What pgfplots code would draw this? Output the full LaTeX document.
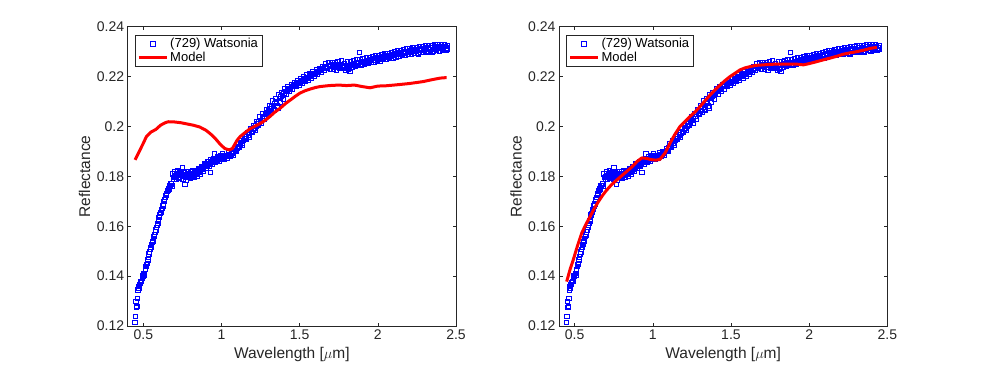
\documentclass[border=0pt]{standalone}
\usepackage{fontspec}
\setmainfont{Liberation Sans}
\usepackage{pgfplots}
\usepackage{pgfplotstable}
\pgfplotsset{compat=1.18}
\definecolor{matgray}{RGB}{38,38,38}

% measured spectrum of (729) Watsonia
\pgfplotstableread{
lam R
0.447 0.1215
0.450 0.1238
0.453 0.1300
0.456 0.1276
0.459 0.1278
0.462 0.1312
0.466 0.1345
0.469 0.1360
0.472 0.1352
0.476 0.1368
0.480 0.1373
0.484 0.1380
0.488 0.1378
0.492 0.1390
0.496 0.1402
0.500 0.1398
0.504 0.1412
0.508 0.1405
0.512 0.1428
0.516 0.1440
0.520 0.1446
0.524 0.1452
0.528 0.1465
0.532 0.1478
0.536 0.1490
0.540 0.1498
0.544 0.1508
0.548 0.1515
0.552 0.1528
0.556 0.1535
0.560 0.1540
0.564 0.1552
0.568 0.1560
0.572 0.1565
0.576 0.1578
0.580 0.1585
0.584 0.1595
0.588 0.1605
0.592 0.1612
0.596 0.1622
0.600 0.1635
0.604 0.1645
0.608 0.1652
0.612 0.1655
0.616 0.1668
0.620 0.1672
0.624 0.1682
0.628 0.1690
0.632 0.1700
0.636 0.1706
0.640 0.1715
0.644 0.1725
0.648 0.1730
0.652 0.1740
0.656 0.1745
0.660 0.1752
0.664 0.1748
0.668 0.1762
0.672 0.1765
0.676 0.1770
0.680 0.1772
0.684 0.1762
0.688 0.1810
0.692 0.1795
0.696 0.1788
0.700 0.1800
0.705 0.1805
0.710 0.1790
0.715 0.1812
0.720 0.1808
0.725 0.1798
0.730 0.1815
0.735 0.1804
0.740 0.1820
0.745 0.1812
0.750 0.1836
0.755 0.1806
0.760 0.1800
0.765 0.1768
0.770 0.1795
0.775 0.1808
0.780 0.1812
0.785 0.1798
0.790 0.1805
0.795 0.1802
0.800 0.1818
0.805 0.1800
0.810 0.1808
0.815 0.1812
0.820 0.1803
0.825 0.1815
0.830 0.1810
0.835 0.1820
0.840 0.1812
0.845 0.1818
0.850 0.1825
0.855 0.1815
0.860 0.1828
0.865 0.1822
0.870 0.1832
0.875 0.1828
0.880 0.1838
0.885 0.1835
0.890 0.1842
0.895 0.1848
0.900 0.1840
0.905 0.1850
0.910 0.1845
0.915 0.1852
0.920 0.1858
0.925 0.1850
0.930 0.1816
0.935 0.1860
0.940 0.1855
0.945 0.1865
0.950 0.1858
0.955 0.1890
0.960 0.1862
0.965 0.1870
0.970 0.1866
0.975 0.1872
0.980 0.1868
0.985 0.1875
0.990 0.1870
0.995 0.1878
1.000 0.1874
1.010 0.1880
1.020 0.1876
1.030 0.1884
1.040 0.1880
1.050 0.1888
1.060 0.1884
1.070 0.1893
1.080 0.1900
1.090 0.1905
1.100 0.1914
1.110 0.1920
1.120 0.1930
1.130 0.1935
1.140 0.1945
1.150 0.1952
1.160 0.1960
1.170 0.1966
1.180 0.1975
1.190 0.1980
1.200 0.1990
1.210 0.1995
1.220 0.2003
1.230 0.2010
1.240 0.2018
1.250 0.2025
1.260 0.2030
1.270 0.2040
1.280 0.2048
1.290 0.2055
1.300 0.2062
1.310 0.2070
1.320 0.2078
1.330 0.2070
1.340 0.2092
1.350 0.2098
1.360 0.2075
1.370 0.2112
1.380 0.2120
1.390 0.2125
1.400 0.2135
1.410 0.2140
1.420 0.2145
1.430 0.2150
1.440 0.2152
1.450 0.2160
1.460 0.2165
1.470 0.2168
1.480 0.2172
1.490 0.2175
1.500 0.2178
1.510 0.2182
1.520 0.2186
1.530 0.2188
1.540 0.2194
1.550 0.2196
1.560 0.2200
1.570 0.2203
1.580 0.2208
1.590 0.2210
1.600 0.2214
1.610 0.2216
1.620 0.2220
1.630 0.2225
1.640 0.2228
1.650 0.2233
1.660 0.2235
1.670 0.2238
1.680 0.2242
1.690 0.2240
1.700 0.2246
1.710 0.2250
1.720 0.2244
1.730 0.2238
1.740 0.2248
1.750 0.2242
1.760 0.2236
1.770 0.2246
1.780 0.2240
1.790 0.2238
1.800 0.2244
1.810 0.2228
1.820 0.2222
1.830 0.2248
1.840 0.2246
1.850 0.2252
1.860 0.2244
1.870 0.2256
1.880 0.2296
1.890 0.2250
1.900 0.2258
1.910 0.2262
1.920 0.2255
1.930 0.2266
1.940 0.2260
1.950 0.2270
1.960 0.2264
1.970 0.2272
1.980 0.2266
1.990 0.2275
2.000 0.2270
2.010 0.2278
2.020 0.2272
2.030 0.2280
2.040 0.2276
2.050 0.2283
2.060 0.2278
2.070 0.2285
2.080 0.2282
2.090 0.2290
2.100 0.2284
2.110 0.2292
2.120 0.2288
2.130 0.2295
2.140 0.2290
2.150 0.2298
2.160 0.2292
2.170 0.2300
2.180 0.2296
2.190 0.2302
2.200 0.2298
2.210 0.2304
2.220 0.2300
2.230 0.2307
2.240 0.2302
2.250 0.2310
2.260 0.2290
2.270 0.2312
2.280 0.2306
2.290 0.2314
2.300 0.2308
2.310 0.2302
2.320 0.2316
2.330 0.2310
2.340 0.2318
2.350 0.2298
2.360 0.2312
2.370 0.2320
2.380 0.2314
2.390 0.2322
2.400 0.2315
2.410 0.2320
2.420 0.2312
2.430 0.2322
2.440 0.2316
2.445 0.2310
0.702 0.1818
0.712 0.1796
0.722 0.1822
0.732 0.1793
0.742 0.1808
0.752 0.1790
0.762 0.1815
0.772 0.1786
0.782 0.1820
0.792 0.1795
0.802 0.1792
0.812 0.1822
0.822 0.1796
0.832 0.1825
0.842 0.1802
0.852 0.1830
0.862 0.1810
0.872 0.1840
0.882 0.1822
0.892 0.1850
0.902 0.1832
0.912 0.1858
0.922 0.1840
0.932 0.1866
0.942 0.1848
0.952 0.1870
0.962 0.1855
0.972 0.1878
0.982 0.1860
0.992 0.1882
1.005 0.1892
1.015 0.1868
1.025 0.1885
1.035 0.1874
1.045 0.1896
1.055 0.1881
1.065 0.1899
1.075 0.1884
1.085 0.1910
1.095 0.1900
1.105 0.1932
1.115 0.1917
1.125 0.1944
1.135 0.1925
1.145 0.1958
1.155 0.1950
1.165 0.1977
1.175 0.1958
1.185 0.1993
1.195 0.1976
1.205 0.2004
1.215 0.1985
1.225 0.2021
1.235 0.2004
1.245 0.2039
1.255 0.2015
1.265 0.2050
1.275 0.2030
1.285 0.2068
1.295 0.2048
1.305 0.2082
1.315 0.2059
1.325 0.2102
1.335 0.2066
1.345 0.2113
1.355 0.2082
1.365 0.2128
1.375 0.2099
1.385 0.2137
1.395 0.2110
1.405 0.2151
1.415 0.2130
1.425 0.2160
1.435 0.2141
1.445 0.2168
1.455 0.2151
1.465 0.2178
1.475 0.2161
1.485 0.2185
1.495 0.2166
1.505 0.2192
1.515 0.2174
1.525 0.2200
1.535 0.2181
1.545 0.2207
1.555 0.2187
1.565 0.2214
1.575 0.2195
1.585 0.2220
1.595 0.2202
1.605 0.2227
1.615 0.2208
1.625 0.2234
1.635 0.2216
1.645 0.2242
1.655 0.2224
1.665 0.2252
1.675 0.2232
1.685 0.2256
1.695 0.2231
1.705 0.2257
1.715 0.2231
1.725 0.2256
1.735 0.2227
1.745 0.2260
1.755 0.2233
1.765 0.2265
1.775 0.2235
1.785 0.2253
1.795 0.2226
1.805 0.2259
1.815 0.2233
1.825 0.2259
1.835 0.2238
1.845 0.2266
1.855 0.2240
1.865 0.2268
1.875 0.2245
1.885 0.2269
1.895 0.2244
1.905 0.2272
1.915 0.2251
1.925 0.2276
1.935 0.2252
1.945 0.2278
1.955 0.2257
1.965 0.2279
1.975 0.2258
1.985 0.2284
1.995 0.2262
2.005 0.2285
2.015 0.2263
2.025 0.2289
2.035 0.2268
2.045 0.2291
2.055 0.2268
2.065 0.2294
2.075 0.2273
2.085 0.2297
2.095 0.2274
2.105 0.2300
2.115 0.2278
2.125 0.2303
2.135 0.2280
2.145 0.2305
2.155 0.2285
2.165 0.2308
2.175 0.2285
2.185 0.2311
2.195 0.2290
2.205 0.2312
2.215 0.2290
2.225 0.2315
2.235 0.2294
2.245 0.2318
2.255 0.2295
2.265 0.2321
2.275 0.2298
2.285 0.2322
2.295 0.2299
2.305 0.2324
2.315 0.2298
2.325 0.2325
2.335 0.2300
2.345 0.2326
2.355 0.2303
2.365 0.2328
2.375 0.2306
2.385 0.2328
2.395 0.2302
2.405 0.2328
2.415 0.2306
2.425 0.2328
2.435 0.2304
2.445 0.2325
}\watsonia

\pgfplotsset{
  panel/.style={
    scale only axis,
    width=328.3pt, height=299.3pt,
    anchor=south west,
    xmin=0.4, xmax=2.5, ymin=0.12, ymax=0.24,
    xtick={0.5,1,1.5,2,2.5},
    ytick={0.12,0.14,...,0.24},
    scaled ticks=false,
    clip marker paths=true,
    /pgf/number format/assume math mode=true,
    /pgf/number format/fixed,
    /pgf/number format/precision=2,
    ticklabel style={font=\fontsize{14}{16}\selectfont, text=matgray},
    label style={font=\fontsize{15.5}{18}\selectfont, text=matgray},
    axis line style={matgray, line width=0.6pt},
    tick style={matgray, line width=0.6pt},
    major tick length=3.5pt,
    tick align=inside,
    xlabel={Wavelength [$\mu$m]},
    ylabel={Reflectance},
    xlabel style={at={(axis description cs:0.5,-0.094)}, anchor=center},
    ylabel style={at={(axis description cs:-0.131,0.5)}, anchor=center, rotate=0},
    legend cell align=left,
    legend style={at={(0.022,0.972)}, anchor=north west,
      draw=matgray, line width=0.6pt, text=black,
      font=\fontsize{13}{15}\selectfont,
      inner xsep=2pt, inner ysep=1pt, row sep=-1pt},
    legend image code/.code={
      \draw[mark repeat=2, mark phase=2, ##1]
        plot coordinates {(0pt,0pt) (14pt,0pt) (28pt,0pt)};},
  },
  obs/.style={only marks, mark=square, mark size=2.2pt,
    color=blue, mark options={line width=0.7pt, solid}},
  fit/.style={red, line width=3pt, line join=round, no marks},
}

\begin{document}
\begin{tikzpicture}
\path[use as bounding box] (0,0) rectangle (981pt,368pt);

\begin{axis}[panel, at={(127.7pt,42pt)}]
\addplot[obs] table[x=lam, y=R] {\watsonia};
\addlegendentry{(729) Watsonia}
\addplot[fit] coordinates {
(0.447,0.1866) (0.47,0.1895) (0.50,0.1933) (0.52,0.1960) (0.55,0.1978)
(0.58,0.1988) (0.61,0.2005) (0.64,0.2015) (0.66,0.2019) (0.70,0.2018)
(0.74,0.2015) (0.78,0.2010) (0.82,0.2005) (0.86,0.1998) (0.90,0.1985)
(0.93,0.1970) (0.96,0.1952) (0.99,0.1930) (1.02,0.1912) (1.05,0.1906)
(1.07,0.1912) (1.10,0.1945) (1.12,0.1960) (1.15,0.1975) (1.18,0.1990)
(1.22,0.2003) (1.25,0.2013) (1.28,0.2025) (1.31,0.2040) (1.34,0.2057)
(1.375,0.2073) (1.41,0.2092) (1.44,0.2106) (1.47,0.2120) (1.50,0.2133)
(1.53,0.2142) (1.567,0.2150) (1.60,0.2156) (1.63,0.2160) (1.69,0.2164)
(1.75,0.2166) (1.80,0.2164) (1.85,0.2166) (1.90,0.2160) (1.95,0.2155)
(2.00,0.2162) (2.05,0.2163) (2.12,0.2167) (2.20,0.2172) (2.29,0.2180)
(2.35,0.2188) (2.40,0.2194) (2.44,0.2196)
};
\addlegendentry{Model}
\end{axis}

\begin{axis}[panel, at={(559pt,42pt)}]
\addplot[obs] table[x=lam, y=R] {\watsonia};
\addlegendentry{(729) Watsonia}
\addplot[fit] coordinates {
(0.449,0.1378) (0.47,0.1425) (0.491,0.1465) (0.52,0.1525) (0.545,0.1572)
(0.57,0.1605) (0.598,0.1638) (0.625,0.1670) (0.651,0.1698) (0.68,0.1725)
(0.705,0.1745) (0.735,0.1766) (0.769,0.1785) (0.80,0.1802) (0.83,0.1818)
(0.87,0.1840) (0.90,0.1860) (0.93,0.1874) (0.96,0.1872) (0.99,0.1867)
(1.02,0.1865) (1.046,0.1868) (1.08,0.1895) (1.11,0.1933) (1.14,0.1967)
(1.174,0.2000) (1.206,0.2020) (1.238,0.2040) (1.27,0.2058) (1.302,0.2080)
(1.334,0.2103) (1.366,0.2126) (1.40,0.2148) (1.43,0.2166) (1.46,0.2183)
(1.494,0.2200) (1.53,0.2215) (1.558,0.2227) (1.59,0.2235) (1.622,0.2240)
(1.66,0.2245) (1.707,0.2247) (1.75,0.2249) (1.793,0.2250) (1.85,0.2250)
(1.92,0.2250) (1.963,0.2247) (2.00,0.2252) (2.049,0.2260) (2.09,0.2267)
(2.134,0.2274) (2.18,0.2282) (2.22,0.2290) (2.26,0.2295) (2.305,0.2300)
(2.35,0.2306) (2.39,0.2313) (2.433,0.2317)
};
\addlegendentry{Model}
\end{axis}
\end{tikzpicture}
\end{document}
